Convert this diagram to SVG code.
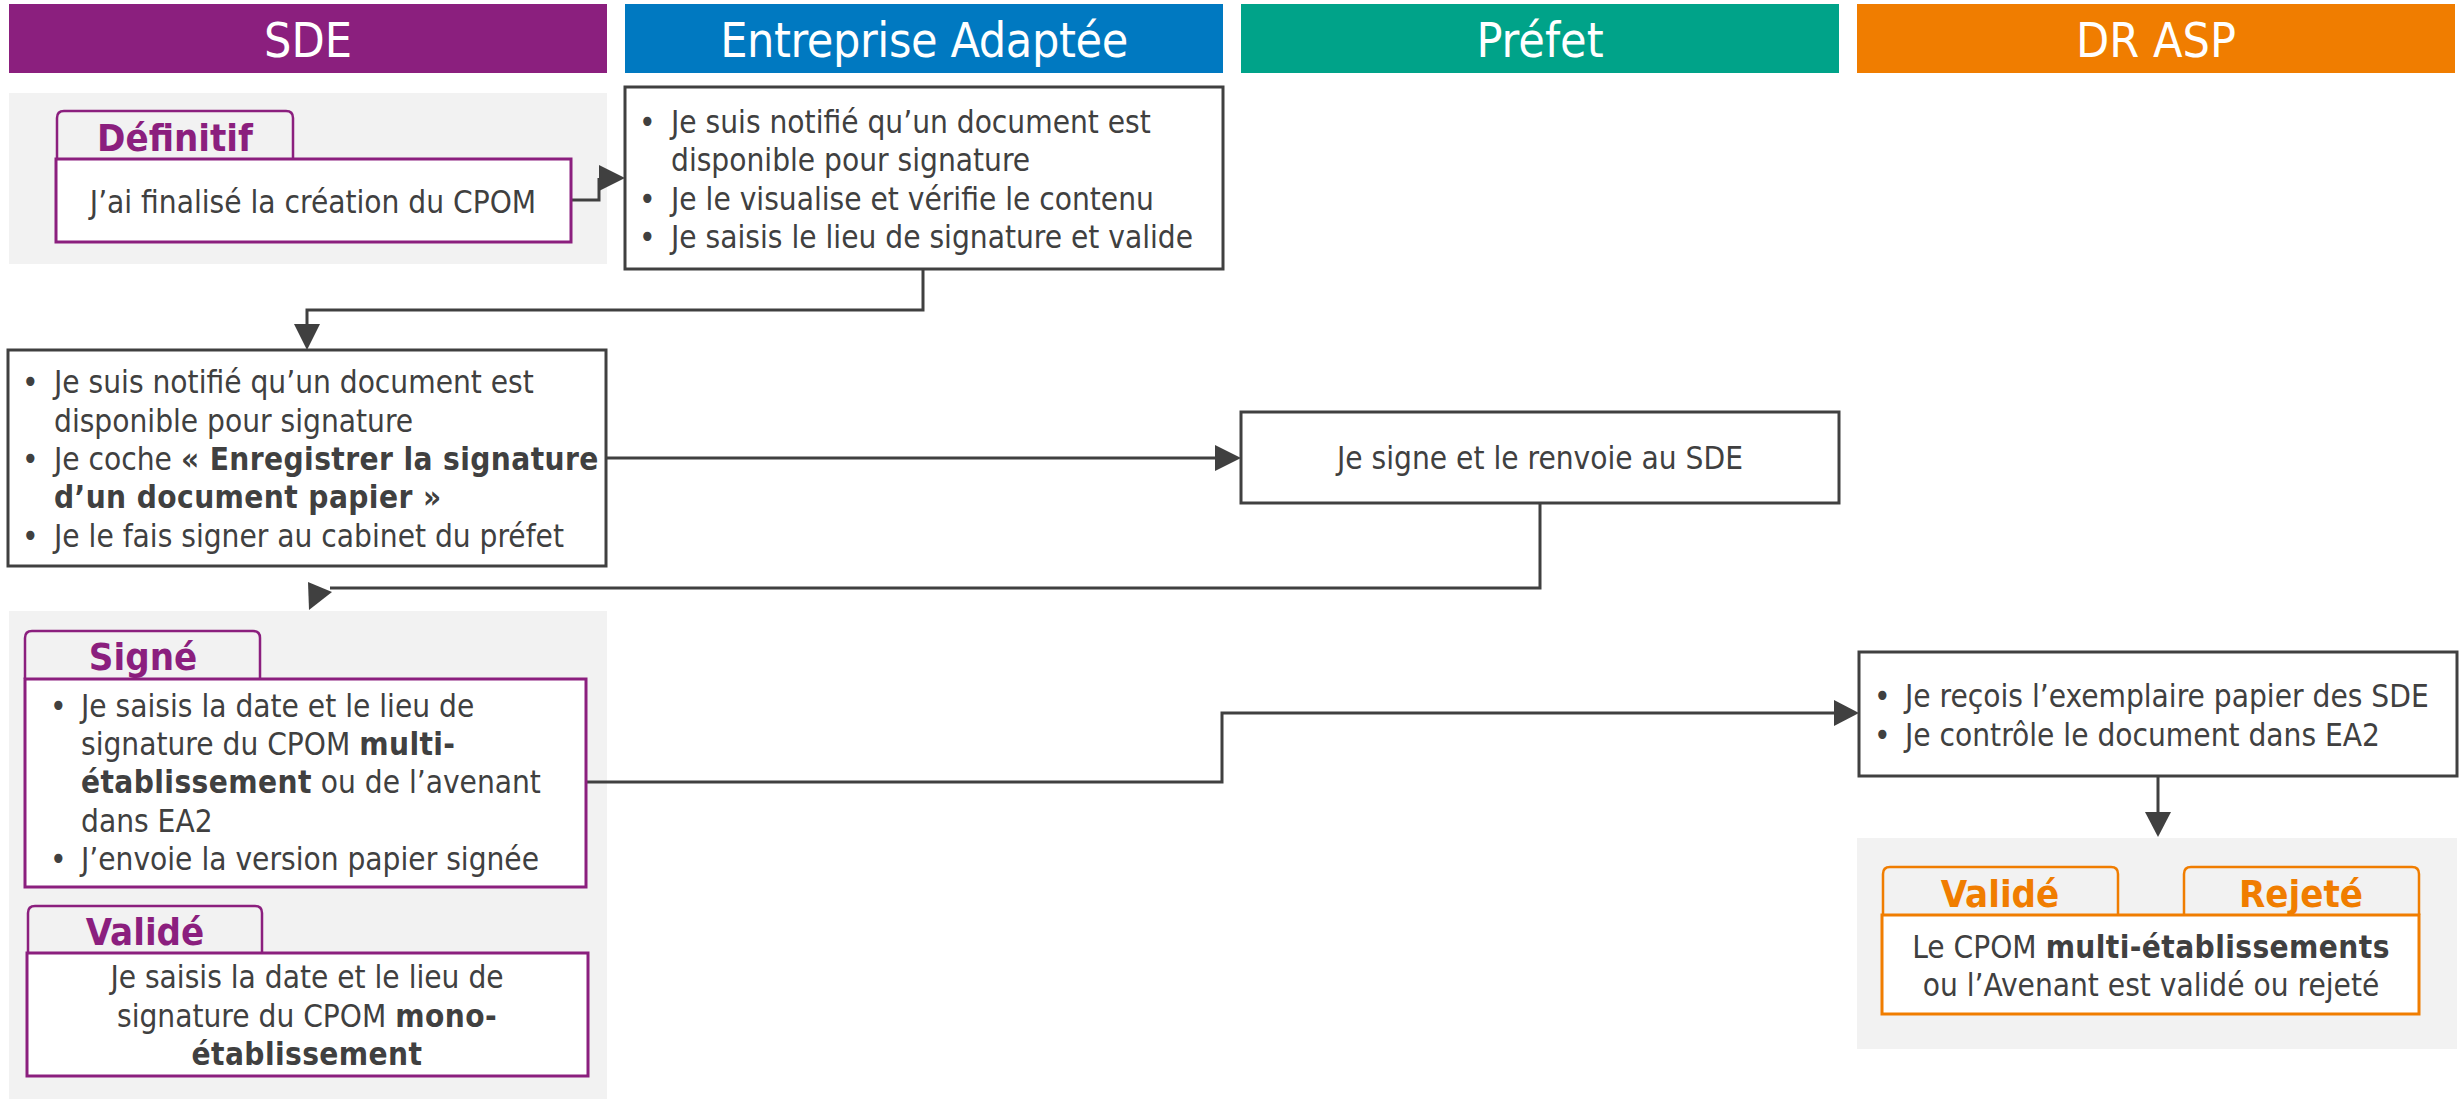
<svg xmlns="http://www.w3.org/2000/svg" width="2461" height="1100" viewBox="0 0 2461 1100">
<style>
.hdr{font-family:'DejaVu Sans Condensed','DejaVu Sans',sans-serif;font-stretch:condensed;font-size:48px;fill:#fff;text-anchor:middle}
.t{font-family:'DejaVu Sans Condensed','DejaVu Sans',sans-serif;font-stretch:condensed;font-size:31.3px;fill:#404040}
.c{text-anchor:middle}
.b{font-weight:bold;letter-spacing:0.4px}
.tab{font-family:'DejaVu Sans Condensed','DejaVu Sans',sans-serif;font-stretch:condensed;font-size:38px;font-weight:bold;text-anchor:middle}
.bg{fill:#F2F2F2}
.box{fill:#fff;stroke:#404040;stroke-width:3}
.pbox{fill:#fff;stroke:#8B1F7E;stroke-width:3}
.ptab{fill:none;stroke:#8B1F7E;stroke-width:2.5}
.obox{fill:#fff;stroke:#F07D00;stroke-width:3}
.otab{fill:none;stroke:#F07D00;stroke-width:2.5}
.ln{fill:none;stroke:#404040;stroke-width:3}
.ah{fill:#404040}
</style>
<g id="headers">
<rect x="9" y="4" width="598" height="69" fill="#8B1F7E"/>
<text class="hdr" x="308" y="57">SDE</text>
<rect x="625" y="4" width="598" height="69" fill="#0079C1"/>
<text class="hdr" x="924" y="57" letter-spacing="-0.4">Entreprise Adaptée</text>
<rect x="1241" y="4" width="598" height="69" fill="#00A389"/>
<text class="hdr" x="1540" y="57">Préfet</text>
<rect x="1857" y="4" width="598" height="69" fill="#F07D00"/>
<text class="hdr" x="2156" y="57">DR ASP</text>
</g>
<g id="bg">
<rect class="bg" x="9" y="93" width="598" height="171"/>
<rect class="bg" x="9" y="611" width="598" height="488"/>
<rect class="bg" x="1857" y="838" width="600" height="211"/>
</g>
<g id="connectors">
<polyline class="ln" points="571,200 599,200 599,178"/>
<polygon class="ah" points="599,165 599,191 625,178"/>
<polyline class="ln" points="923,269 923,310 307,310 307,326"/>
<polygon class="ah" points="294,324 320,324 307,350"/>
<polyline class="ln" points="606,458 1217,458"/>
<polygon class="ah" points="1215,445 1215,471 1241,458"/>
<polyline class="ln" points="1540,503 1540,588 330,588"/>
<polygon class="ah" points="308,582 309,610 332,592"/>
<polyline class="ln" points="586,782 1222,782 1222,713 1836,713"/>
<polygon class="ah" points="1834,700 1834,726 1859,713"/>
<polyline class="ln" points="2158,776 2158,814"/>
<polygon class="ah" points="2145,812 2171,812 2158,837"/>
</g>
<g id="sde-definitif">
<path class="ptab" d="M57,159 V118 Q57,111 64,111 H286 Q293,111 293,118 V159"/>
<text class="tab" x="175" y="151" fill="#8B1F7E">Définitif</text>
<rect class="pbox" x="56" y="159" width="515" height="83"/>
<text class="t c" x="313" y="213">J’ai finalisé la création du CPOM</text>
</g>
<g id="ea-signature">
<rect class="box" x="625" y="87" width="598" height="182"/>
<text class="t"><tspan x="639" y="133">•</tspan><tspan x="671" y="133">Je suis notifié qu’un document est</tspan><tspan x="671" y="171">disponible pour signature</tspan><tspan x="639" y="210">•</tspan><tspan x="671" y="210">Je le visualise et vérifie le contenu</tspan><tspan x="639" y="248">•</tspan><tspan x="671" y="248">Je saisis le lieu de signature et valide</tspan></text>
</g>
<g id="sde-papier">
<rect class="box" x="8" y="350" width="598" height="216"/>
<text class="t"><tspan x="22" y="393">•</tspan><tspan x="54" y="393">Je suis notifié qu’un document est</tspan><tspan x="54" y="432">disponible pour signature</tspan><tspan x="22" y="470">•</tspan><tspan x="54" y="470">Je coche </tspan><tspan class="b">« Enregistrer la signature</tspan><tspan x="54" y="508" class="b">d’un document papier »</tspan><tspan x="22" y="547">•</tspan><tspan x="54" y="547">Je le fais signer au cabinet du préfet</tspan></text>
</g>
<g id="prefet-signe">
<rect class="box" x="1241" y="412" width="598" height="91"/>
<text class="t c" x="1540" y="469">Je signe et le renvoie au SDE</text>
</g>
<g id="sde-signe">
<path class="ptab" d="M25,679 V638 Q25,631 32,631 H253 Q260,631 260,638 V679"/>
<text class="tab" x="143" y="670" fill="#8B1F7E">Signé</text>
<rect class="pbox" x="25" y="679" width="561" height="208"/>
<text class="t"><tspan x="50" y="717">•</tspan><tspan x="81" y="717">Je saisis la date et le lieu de</tspan><tspan x="81" y="755">signature du CPOM </tspan><tspan class="b">multi-</tspan><tspan x="81" y="793" class="b">établissement</tspan><tspan> ou de l’avenant</tspan><tspan x="81" y="832">dans EA2</tspan><tspan x="50" y="870">•</tspan><tspan x="81" y="870">J’envoie la version papier signée</tspan></text>
</g>
<g id="sde-valide">
<path class="ptab" d="M28,953 V913 Q28,906 35,906 H255 Q262,906 262,913 V953"/>
<text class="tab" x="145" y="945" fill="#8B1F7E">Validé</text>
<rect class="pbox" x="27" y="953" width="561" height="123"/>
<text class="t c"><tspan x="307" y="988">Je saisis la date et le lieu de</tspan><tspan x="307" y="1027">signature du CPOM <tspan class="b">mono-</tspan></tspan><tspan x="307" y="1065" class="b">établissement</tspan></text>
</g>
<g id="drasp-controle">
<rect class="box" x="1859" y="652" width="598" height="124"/>
<text class="t"><tspan x="1874" y="707">•</tspan><tspan x="1905" y="707">Je reçois l’exemplaire papier des SDE</tspan><tspan x="1874" y="746">•</tspan><tspan x="1905" y="746">Je contrôle le document dans EA2</tspan></text>
</g>
<g id="drasp-resultat">
<path class="otab" d="M1883,915 V874 Q1883,867 1890,867 H2111 Q2118,867 2118,874 V915"/>
<text class="tab" x="2000" y="907" fill="#F07D00">Validé</text>
<path class="otab" d="M2184,915 V874 Q2184,867 2191,867 H2412 Q2419,867 2419,874 V915"/>
<text class="tab" x="2301" y="907" fill="#F07D00">Rejeté</text>
<rect class="obox" x="1882" y="915" width="537" height="99"/>
<text class="t c"><tspan x="2151" y="958">Le CPOM <tspan class="b">multi-établissements</tspan></tspan><tspan x="2151" y="996">ou l’Avenant est validé ou rejeté</tspan></text>
</g>
</svg>
